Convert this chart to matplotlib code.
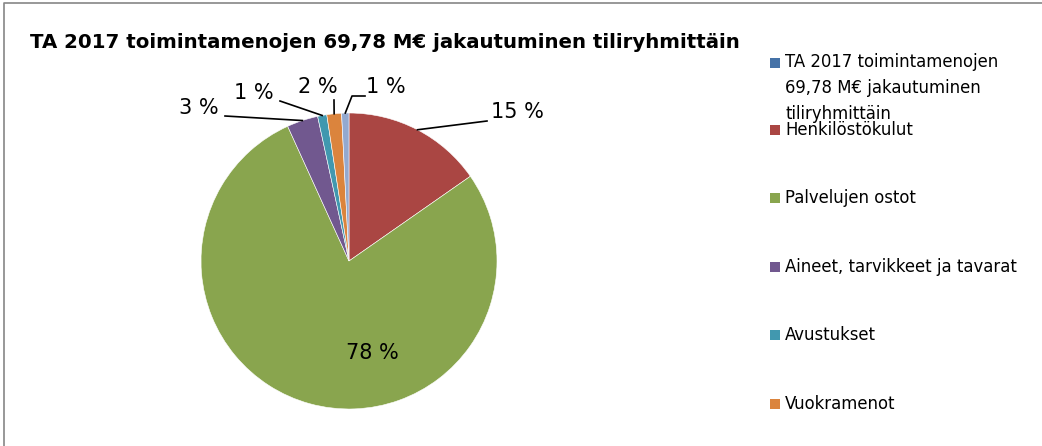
import numpy as np
import matplotlib.pyplot as plt
from matplotlib.patches import Rectangle

# slice data (share of 69,78 M€, per cent)
categories = [
    "TA 2017 toimintamenojen\n69,78 M€ jakautuminen\ntiliryhmittäin",
    "Henkilöstökulut",
    "Palvelujen ostot",
    "Aineet, tarvikkeet ja tavarat",
    "Avustukset",
    "Vuokramenot",
    "Muut toimintamenot",
]
shares = [0.0, 15.3, 77.9, 3.4, 1.0, 1.6, 0.8]
colors = ["#4572A7", "#AA4643", "#89A54E", "#71588F", "#4198AF", "#DB843D", "#93A9CF"]
title = "TA 2017 toimintamenojen 69,78 M€ jakautuminen tiliryhmittäin"

plt.rcParams['font.family'] = ['DejaVu Sans']

W, H = 1042, 446
fig = plt.figure(figsize=(W / 100, H / 100), dpi=100)
ax = fig.add_axes([0, 0, 1, 1])

# chart frame (cropped at right and bottom)
ax.plot([4, 4, W + 10], [-10, H - 3, H - 3], color="#868686", lw=1.2, clip_on=False)

cx, cy, r = 349, H - 261, 148
wedges, _ = ax.pie(shares, colors=colors, startangle=90, counterclock=False,
                   center=(cx, cy), radius=r, frame=True,
                   wedgeprops=dict(edgecolor="white", linewidth=0.4))
ax.set_xlim(0, W)
ax.set_ylim(0, H)
ax.set_aspect('equal')
ax.axis('off')


def edge_point(w, frac=1.0):
    mid = np.deg2rad((w.theta1 + w.theta2) / 2)
    return cx + frac * r * np.cos(mid), cy + frac * r * np.sin(mid)


# label layout: (text x, text y, leader path) in pixels from top-left, None = inside
label_pos = {
    1: (517, 112, [(487, 121)]),
    2: (372, 353, None),
    3: (199, 108, [(225, 116)]),
    4: (254, 93, [(280, 101)]),
    5: (318, 87, [(334, 100)]),
    6: (386, 87, [(352, 96), (365, 96)]),
}

for i, (tx, ty, path) in label_pos.items():
    pct = f"{shares[i]:.0f} %"
    ax.text(tx, H - ty, pct, fontsize=15, ha='center', va='center', color="#000000")
    if path is not None:
        ex, ey = edge_point(wedges[i])
        xs = [ex] + [p[0] for p in path]
        ys = [ey] + [H - p[1] for p in path]
        ax.plot(xs, ys, color="black", lw=1.2)

ax.text(30, H - 42, title, fontsize=14.2, fontweight='bold', ha='left', va='center')

# legend (last entry cut off by the crop)
leg_y = [88, 130, 198, 267, 335, 404]
mark_y = [63, 130, 198, 267, 335, 404]
for i, y in enumerate(leg_y):
    ax.add_patch(Rectangle((770, H - mark_y[i] - 5), 10, 10, color=colors[i], lw=0))
    ax.text(785, H - y, categories[i], fontsize=11.9,
            ha='left', va='center', linespacing=1.6)

fig.savefig("out.png", dpi=100)
